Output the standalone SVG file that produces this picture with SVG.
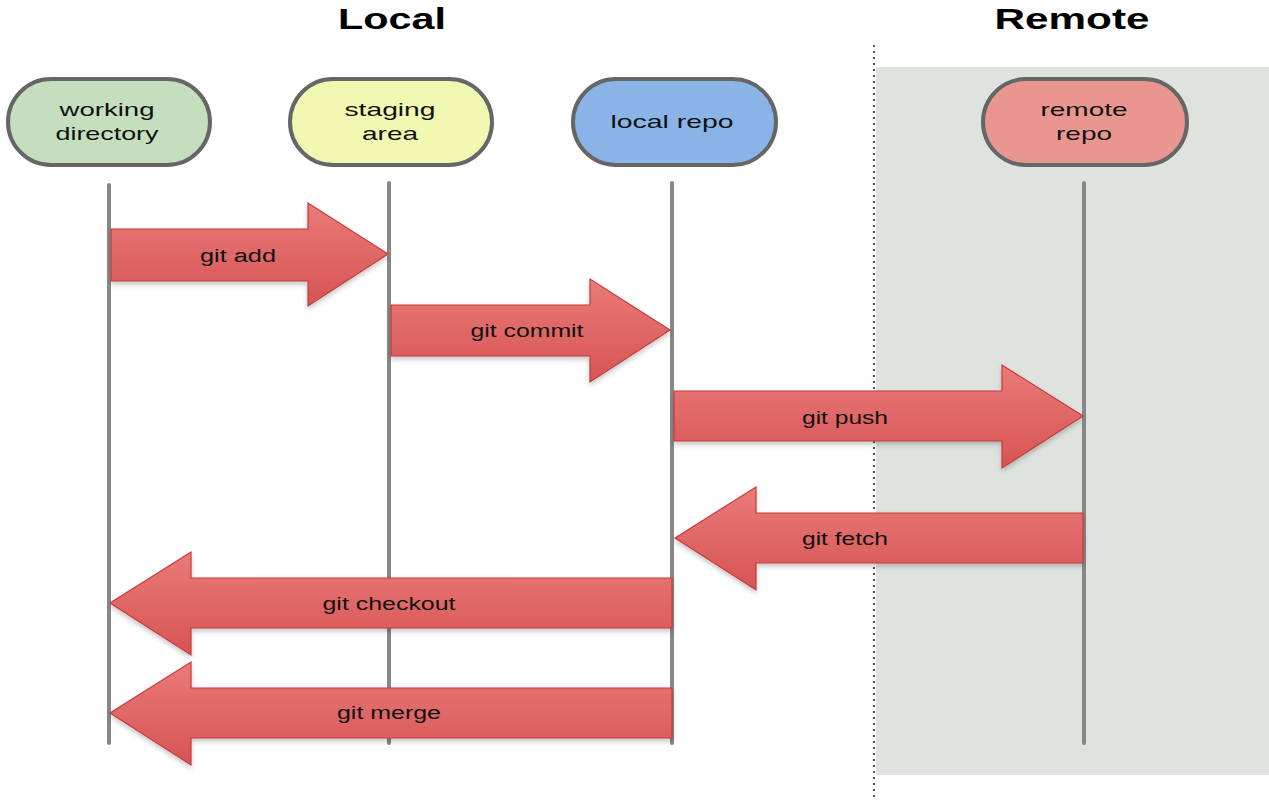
<svg xmlns="http://www.w3.org/2000/svg" width="1269" height="800" viewBox="0 0 1269 800">
<defs>
<linearGradient id="red" x1="0" y1="0" x2="0" y2="1">
<stop offset="0" stop-color="#ea7a78"/>
<stop offset="1" stop-color="#d65455"/>
</linearGradient>
<filter id="sh" x="-10%" y="-10%" width="120%" height="130%">
<feDropShadow dx="0" dy="3" stdDeviation="2.5" flood-color="#000" flood-opacity="0.22"/>
</filter>
</defs>
<style>
.title{font-family:"Liberation Sans",Arial,sans-serif;font-weight:bold;font-size:30px;fill:#000;text-anchor:middle}
.node{stroke:#666;stroke-width:4}
.nt{font-family:"Liberation Sans",Arial,sans-serif;font-size:19px;fill:#111;text-anchor:middle}
.life{stroke:#888;stroke-width:4;stroke-linecap:round}
.arrow{fill:url(#red);stroke:#c83a3c;stroke-width:1.2;filter:url(#sh)}
.at{font-family:"Liberation Sans",Arial,sans-serif;font-size:18px;fill:#111;text-anchor:middle}
</style>
<rect width="1269" height="800" fill="#fff"/>
<rect x="876" y="67" width="393" height="708" fill="#dfe3df"/>
<line x1="874" y1="45" x2="874" y2="800" stroke="#555" stroke-width="2" stroke-dasharray="2,4"/>
<text class="title" x="392" y="29" textLength="108" lengthAdjust="spacingAndGlyphs">Local</text>
<text class="title" x="1072" y="29" textLength="155" lengthAdjust="spacingAndGlyphs">Remote</text>
<g id="lifelines">
<line class="life" x1="109" y1="185" x2="109" y2="743"/>
<line class="life" x1="389" y1="183" x2="389" y2="743"/>
<line class="life" x1="672" y1="183" x2="672" y2="743"/>
<line class="life" x1="1084" y1="183" x2="1084" y2="743"/>
</g>
<g id="working-directory">
<rect class="node" x="8" y="79" width="202" height="86" rx="43" fill="#c5dfbe"/>
<text class="nt" x="107" y="116" textLength="95" lengthAdjust="spacingAndGlyphs">working</text>
<text class="nt" x="107" y="140" textLength="103" lengthAdjust="spacingAndGlyphs">directory</text>
</g>
<g id="staging-area">
<rect class="node" x="290" y="79" width="202" height="86" rx="43" fill="#f1f8b2"/>
<text class="nt" x="390" y="116" textLength="91" lengthAdjust="spacingAndGlyphs">staging</text>
<text class="nt" x="390" y="140" textLength="56" lengthAdjust="spacingAndGlyphs">area</text>
</g>
<g id="local-repo">
<rect class="node" x="573" y="79" width="203" height="86" rx="43" fill="#8ab4e8"/>
<text class="nt" x="672" y="128" textLength="123" lengthAdjust="spacingAndGlyphs">local repo</text>
</g>
<g id="remote-repo">
<rect class="node" x="983" y="79" width="204" height="86" rx="43" fill="#e8968e"/>
<text class="nt" x="1084" y="116" textLength="87" lengthAdjust="spacingAndGlyphs">remote</text>
<text class="nt" x="1084" y="140" textLength="56" lengthAdjust="spacingAndGlyphs">repo</text>
</g>
<g id="connectors">
<g id="git-add">
<path class="arrow" d="M111,229 H308 V203 L388,254 L308,306 V281 H111 Z"/>
<text class="at" x="238" y="262" textLength="76" lengthAdjust="spacingAndGlyphs">git add</text>
</g>
<g id="git-commit">
<path class="arrow" d="M391,305 H590 V279 L670,330 L590,382 V356 H391 Z"/>
<text class="at" x="527" y="337" textLength="113" lengthAdjust="spacingAndGlyphs">git commit</text>
</g>
<g id="git-push">
<path class="arrow" d="M674,391 H1002 V365 L1083,416 L1002,468 V441 H674 Z"/>
<text class="at" x="845" y="424" textLength="86" lengthAdjust="spacingAndGlyphs">git push</text>
</g>
<g id="git-fetch">
<path class="arrow" d="M1083,513 H756 V487 L675,538 L756,590 V563 H1083 Z"/>
<text class="at" x="845" y="545" textLength="86" lengthAdjust="spacingAndGlyphs">git fetch</text>
</g>
<g id="git-checkout">
<path class="arrow" d="M672,578 H191 V552 L110,603 L191,655 V628 H672 Z"/>
<text class="at" x="389" y="610" textLength="133" lengthAdjust="spacingAndGlyphs">git checkout</text>
</g>
<g id="git-merge">
<path class="arrow" d="M672,688 H191 V662 L110,713 L191,765 V738 H672 Z"/>
<text class="at" x="389" y="719" textLength="104" lengthAdjust="spacingAndGlyphs">git merge</text>
</g>
</g>
</svg>
